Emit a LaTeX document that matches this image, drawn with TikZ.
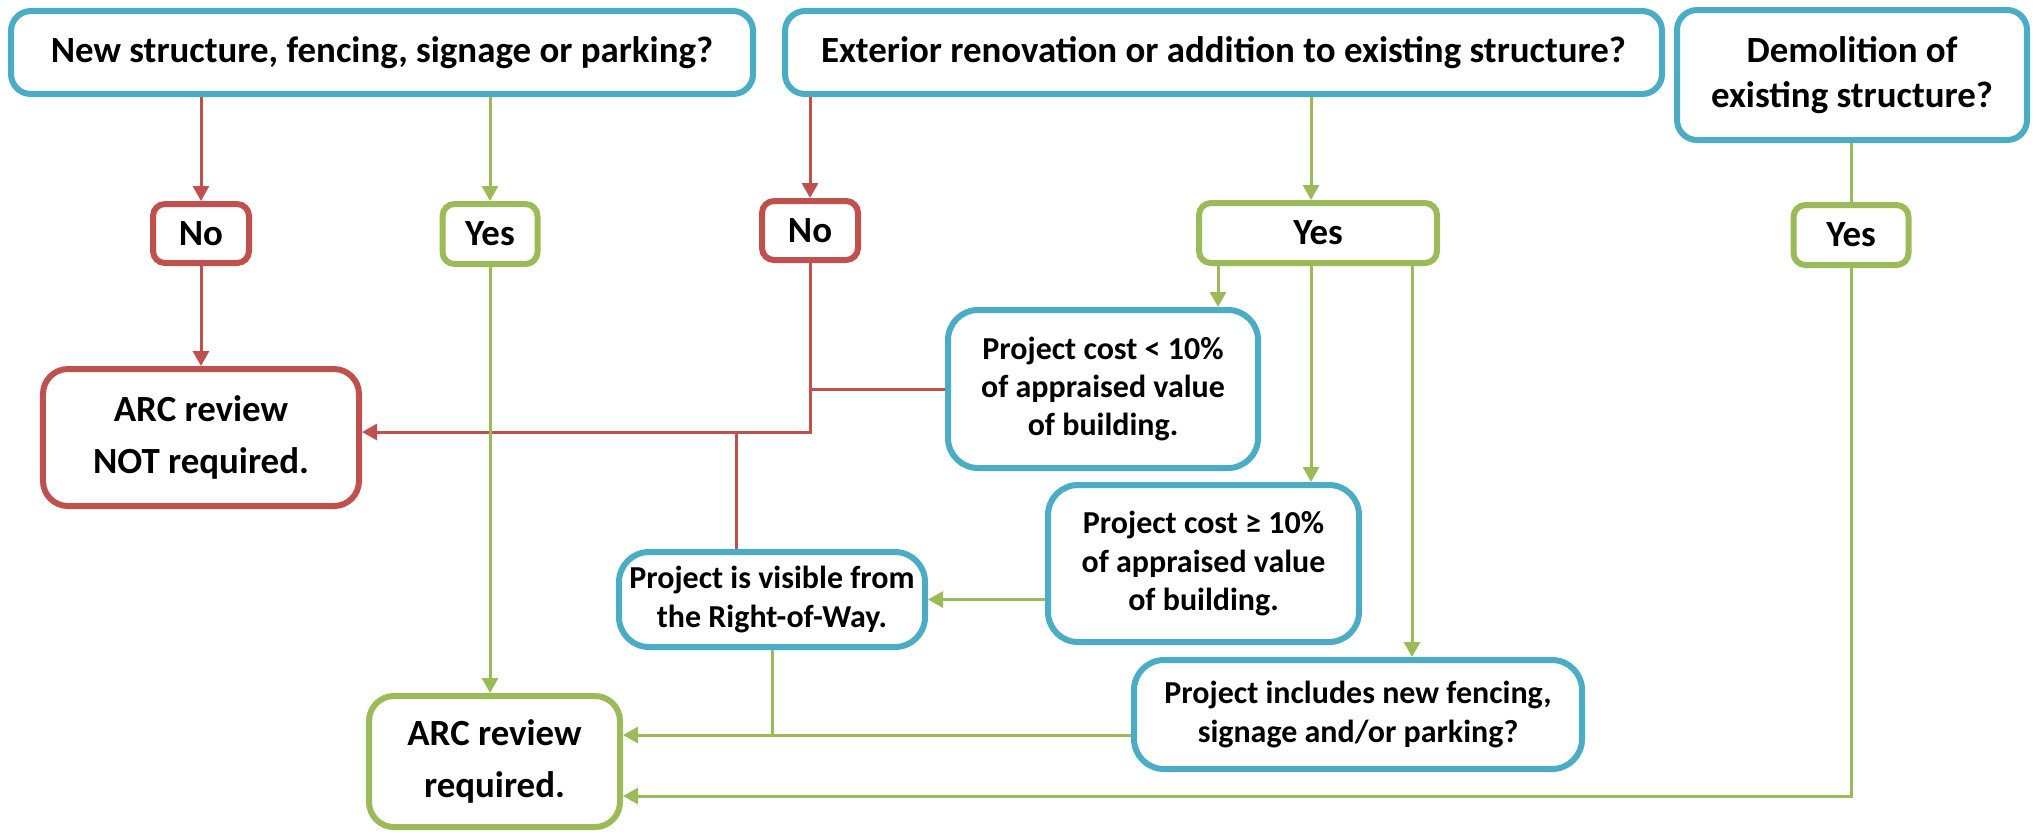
\documentclass[tikz,border=0pt]{standalone}
\usepackage{fontspec}
\setmainfont{Carlito}
\usepackage{tikz}
\usetikzlibrary{positioning, shapes, arrows.meta}

\definecolor{qblue}{HTML}{4BACC6}
\definecolor{nored}{HTML}{C0504D}
\definecolor{yesgreen}{HTML}{9BBB59}

\begin{document}
\begin{tikzpicture}[x=1cm, y=1cm,
	box/.style={rectangle, draw=qblue, line width=0.6mm, rounded corners=2mm, fill=white, align=center, inner sep=0pt, font=\bfseries\fontsize{10.5}{12.8}\selectfont},
	nobox/.style={box, draw=nored, rounded corners=1.2mm},
	yesbox/.style={box, draw=yesgreen, rounded corners=1.2mm},
	arcbox/.style={box, rounded corners=2.5mm, font=\bfseries\fontsize{10.5}{14.8}\selectfont},
	infobox/.style={box, rounded corners=3mm, font=\bfseries\fontsize{9.1}{10.9}\selectfont},
	redline/.style={draw=nored, line width=0.3mm},
	greenline/.style={draw=yesgreen, line width=0.3mm},
	tip/.style={-{Triangle[length=1.5mm, width=1.6mm]}}]
				\useasboundingbox (0,0) rectangle (20.33,-8.33);
				
				% Domande
				\node[box, minimum width=7.42cm, minimum height=0.83cm] (newq) at (3.82,-0.525) {New structure, fencing, signage or parking?};
				\node[box, minimum width=8.77cm, minimum height=0.83cm] (extq) at (12.235,-0.525) {Exterior renovation or addition to existing structure?};
				\node[box, minimum width=3.50cm, minimum height=1.30cm] (demq) at (18.52,-0.75) {Demolition of\\existing structure?};
				
				% Risposte
				\node[nobox, minimum width=0.96cm, minimum height=0.59cm] (newno) at (2.01,-2.335) {No};
				\node[yesbox, minimum width=0.95cm, minimum height=0.60cm] (newyes) at (4.90,-2.34) {Yes};
				\node[nobox, minimum width=0.96cm, minimum height=0.59cm] (extno) at (8.10,-2.305) {No};
				\node[yesbox, minimum width=2.38cm, minimum height=0.60cm] (extyes) at (13.18,-2.33) {Yes};
				\node[yesbox, minimum width=1.15cm, minimum height=0.60cm] (demyes) at (18.51,-2.35) {Yes};
				
				% Esiti
				\node[arcbox, draw=nored, minimum width=3.16cm, minimum height=1.37cm] (arcno) at (2.01,-4.375) {ARC review\\NOT required.};
				\node[arcbox, draw=yesgreen, minimum width=2.51cm, minimum height=1.31cm] (arcyes) at (4.945,-7.615) {ARC review\\required.};
				
				% Condizioni
				\node[infobox, minimum width=3.10cm, minimum height=1.58cm] (costlow) at (11.03,-3.89) {Project cost < 10\%\\of appraised value\\of building.};
				\node[infobox, minimum width=3.11cm, minimum height=1.57cm] (costhigh) at (12.035,-5.635) {Project cost ≥ 10\%\\of appraised value\\of building.};
				\node[infobox, minimum width=3.06cm, minimum height=0.95cm] (visible) at (7.72,-5.995) {Project is visible from\\the Right-of-Way.};
				\node[infobox, minimum width=4.48cm, minimum height=1.09cm] (fencing) at (13.58,-7.145) {Project includes new fencing,\\signage and/or parking?};
				
				% Punti di raccordo
				\coordinate (redjoin) at (8.10,-4.32);
				\coordinate (redtee) at (7.36,-4.32);
				
				% Connessioni rosse
				\draw[redline, tip] (newq.south -| newno) -- (newno.north);
				\draw[redline, tip] (newno) -- (arcno);
				\draw[redline, tip] (extq.south -| extno) -- (extno.north);
				\draw[redline, tip] (extno.south) -- (redjoin) -- (redjoin -| arcno.east);
				\draw[redline] (costlow.west) -- (costlow.west -| extno);
				\draw[redline] (redtee) -- (redtee |- visible.north);
				
				% Connessioni verdi
				\draw[greenline, tip] (newq.south -| newyes) -- (newyes.north);
				\draw[greenline, tip] (newyes.south) -- (newyes.south |- arcyes.north);
				\draw[greenline, tip] (extq.south -| 13.11,0) -- (extyes.north -| 13.11,0);
				\draw[greenline, tip] (extyes.south -| 12.18,0) -- (costlow.north -| 12.18,0);
				\draw[greenline, tip] (extyes.south -| 13.11,0) -- (costhigh.north -| 13.11,0);
				\draw[greenline, tip] (extyes.south -| 14.12,0) -- (fencing.north -| 14.12,0);
				\draw[greenline, tip] (costhigh.west |- visible) -- (visible.east);
				\draw[greenline] (visible.south) -- (visible.south |- 0,-7.35);
				\draw[greenline, tip] (fencing.west |- 0,-7.35) -- (arcyes.east |- 0,-7.35);
				\draw[greenline] (demq.south -| demyes) -- (demyes.north);
				\draw[greenline, tip] (demyes.south) |- (arcyes.east |- 0,-7.96);
\end{tikzpicture}
\end{document}
